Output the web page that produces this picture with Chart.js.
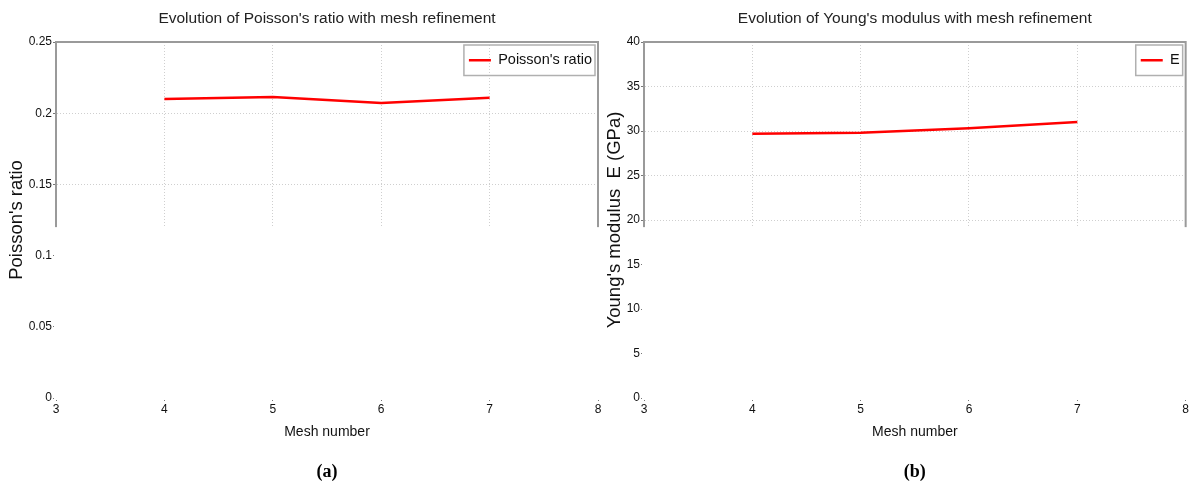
<!DOCTYPE html>
<html>
<head>
<meta charset="utf-8">
<script src="https://cdn.jsdelivr.net/npm/chart.js@4.4.1/dist/chart.umd.min.js"></script>
<style>
  html, body { margin: 0; padding: 0; background: #fff; }
  #wrap { position: relative; width: 1190px; height: 492px; }
  #poissonChart { position: absolute; left: 0; top: 0; }
  #youngChart { position: absolute; left: 590px; top: 0; }
</style>
</head>
<body>
<div id="wrap">
  <canvas id="poissonChart" width="605" height="492"></canvas>
  <canvas id="youngChart" width="600" height="492"></canvas>
</div>
<script>
// Mesh convergence results
const meshNumbers = [4, 5, 6, 7];
const poissonValues = [0.210, 0.2114, 0.2072, 0.2108];
const youngValues = [29.7, 29.8, 30.3, 31.0];

const meshTicks = [3, 4, 5, 6, 7, 8];
const poissonTicks = [0, 0.05, 0.1, 0.15, 0.2, 0.25];
const youngTicks = [0, 5, 10, 15, 20, 25, 30, 35, 40];

Chart.defaults.font.family = "'Liberation Sans', Arial, sans-serif";
Chart.defaults.color = '#111';

// MATLAB-like axes box: top/right edges, boxed legend, blank lower half
const matlabFrame = {
    id: 'matlabFrame',
    afterLayout(chart) {
        const lg = chart.legend;
        const a = chart.chartArea;
        const hb = lg.legendHitBoxes[0];
        const pad = chart.options.plugins.legend.labels.padding;
        const left = a.right - 6 - hb.width - pad;
        const h = lg.height;
        lg.left = left;
        lg.right = left + lg.width;
        lg.top = a.top;
        lg.bottom = a.top + h;
    },
    afterDatasetsDraw(chart, args, opts) {
        const ctx = chart.ctx;
        const a = chart.chartArea;
        ctx.save();
        ctx.strokeStyle = '#9a9a9a';
        ctx.lineWidth = 2;
        ctx.beginPath();
        ctx.moveTo(a.left, a.top);
        ctx.lineTo(a.right, a.top);
        ctx.lineTo(a.right, a.bottom);
        ctx.stroke();

        const cut = a.top + (a.bottom - a.top) * opts.cut;
        ctx.fillStyle = '#fff';
        ctx.fillRect(a.left - 2, cut, a.right - a.left + 4, a.bottom - cut + 2);

        const hb = chart.legend.legendHitBoxes[0];
        ctx.strokeStyle = '#b0b0b0';
        ctx.lineWidth = 1.5;
        ctx.strokeRect(hb.left - 5, hb.top - 8, hb.width + 8, hb.height + 16);
        ctx.restore();
    }
};

function makeChart(canvasId, o) {
    const ctx = document.getElementById(canvasId).getContext('2d');
    return new Chart(ctx, {
        type: 'line',
        data: {
            datasets: [{
                label: o.label,
                data: meshNumbers.map((m, i) => ({ x: m, y: o.values[i] })),
                borderColor: '#ff0000',
                borderWidth: 2.5,
                pointRadius: 0,
                tension: 0
            }]
        },
        options: {
            responsive: false,
            animation: false,
            layout: { padding: { left: 0, right: o.padRight, top: 0, bottom: 0 } },
            plugins: {
                title: {
                    display: true,
                    text: o.title,
                    fullSize: false,
                    color: '#222',
                    font: { size: 15.5, weight: 'normal' },
                    padding: { top: 9, bottom: 14.4 }
                },
                subtitle: {
                    display: true,
                    position: 'bottom',
                    text: o.tag,
                    fullSize: false,
                    color: '#000',
                    font: { family: "'Liberation Serif', 'Times New Roman', serif", size: 18, weight: 'bold' },
                    padding: { top: 8, bottom: 9 }
                },
                legend: {
                    position: 'chartArea',
                    align: 'start',
                    labels: {
                        usePointStyle: true,
                        pointStyle: 'line',
                        pointStyleWidth: 22,
                        padding: 11,
                        color: '#111',
                        font: { size: 14.5 }
                    }
                },
                tooltip: { enabled: false },
                matlabFrame: { cut: 0.52 }
            },
            scales: {
                x: {
                    type: 'linear',
                    min: 3,
                    max: 8,
                    afterBuildTicks: (s) => { s.ticks = meshTicks.map(v => ({ value: v })); },
                    afterFit: (s) => { s.height = 55.4; },
                    ticks: { padding: 1, color: '#111', font: { size: 12 } },
                    grid: { color: '#cfcfcf', tickColor: '#777', tickLength: 3 },
                    border: { color: '#9a9a9a', width: 2, dash: [1, 2] },
                    title: {
                        display: true,
                        text: 'Mesh number',
                        color: '#111',
                        font: { size: 14 },
                        padding: { top: 4, bottom: 12.6 }
                    }
                },
                y: {
                    min: 0,
                    max: o.ticks[o.ticks.length - 1],
                    afterBuildTicks: (s) => { s.ticks = o.ticks.map(v => ({ value: v })); },
                    afterFit: (s) => { s.width = o.axisWidth; },
                    ticks: { padding: 1, color: '#111', font: { size: 12 }, callback: (v) => String(v) },
                    grid: { color: '#cfcfcf', tickColor: '#777', tickLength: 3 },
                    border: { color: '#9a9a9a', width: 2, dash: [1, 2] },
                    title: {
                        display: true,
                        text: o.yTitle,
                        color: '#111',
                        font: { size: 18.5 },
                        padding: { top: o.yTitlePad, bottom: 0 }
                    }
                }
            }
        },
        plugins: [matlabFrame]
    });
}

// Poisson's ratio against mesh number
makeChart('poissonChart', {
    label: "Poisson's ratio",
    values: poissonValues,
    ticks: poissonTicks,
    title: "Evolution of Poisson's ratio with mesh refinement",
    yTitle: "Poisson's ratio",
    tag: '(a)',
    axisWidth: 56,
    yTitlePad: 6,
    padRight: 7
});

// Young's modulus against mesh number
makeChart('youngChart', {
    label: 'E',
    values: youngValues,
    ticks: youngTicks,
    title: "Evolution of Young's modulus with mesh refinement",
    yTitle: "Young's modulus  E (GPa)",
    tag: '(b)',
    axisWidth: 54,
    yTitlePad: 14,
    padRight: 4
});
</script>
</body>
</html>
